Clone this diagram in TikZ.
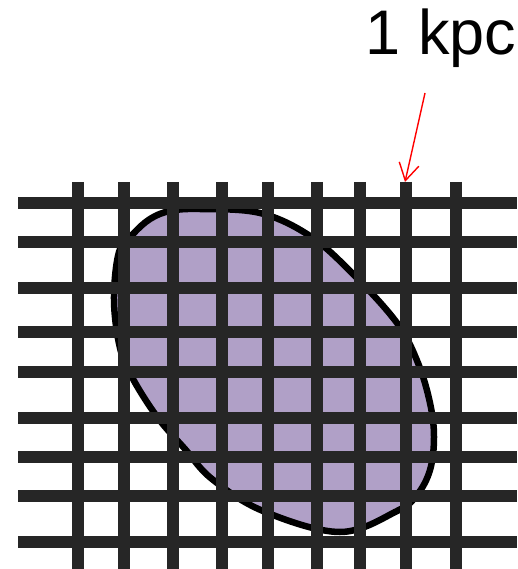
\documentclass[tikz,border=0pt]{standalone}
\usepackage{fontspec}
\setmainfont{Liberation Sans}
\usetikzlibrary{arrows.meta}
\definecolor{gridc}{HTML}{262626}
\definecolor{blobfill}{HTML}{B0A0C7}
\definecolor{arrred}{HTML}{FF0000}
\tikzset{
  gridbar/.style={draw=gridc, line width=12pt, line cap=butt},
  blob/.style={fill=blobfill, draw=black, line width=6.5pt},
  scalearrow/.style={draw=arrred, line width=1.4pt, -{Straight Barb[length=17pt,width=20pt,line width=1.4pt]}},
  scalelabel/.style={font=\fontsize{63}{70}\selectfont, inner sep=0pt, text=black}
}
\begin{document}
\begin{tikzpicture}[x=1pt,y=-1pt]
\useasboundingbox (0,0) rectangle (517,569);
% galaxy blob
\path[blob] plot[smooth cycle, tension=0.6] coordinates {
 (200,209) (260,213) (310,236) (353,274) (397,323) (418,363) (430,403)
 (434,437) (430,470) (417,495) (397,511) (340,532) (263,511) (212,479)
 (185,449) (158,418) (133,379) (120,348) (114,300) (119,252) (133,234)
 (150,219) (170,211)};
% grid
\foreach \y in {203,242,288,332,372,417.5,457,496,542}
  \draw[gridbar] (18,\y) -- (517,\y);
\foreach \x in {78,124,173,222,268,317,360,406,456}
  \draw[gridbar] (\x,182) -- (\x,569);
% label and arrow
\node[scalelabel, anchor=base] (kpc) at (441,55) {1 kpc};
\coordinate (astart) at (425,93);
\coordinate (atip) at (405,182);
\draw[scalearrow] (astart) -- (atip);
\end{tikzpicture}
\end{document}
